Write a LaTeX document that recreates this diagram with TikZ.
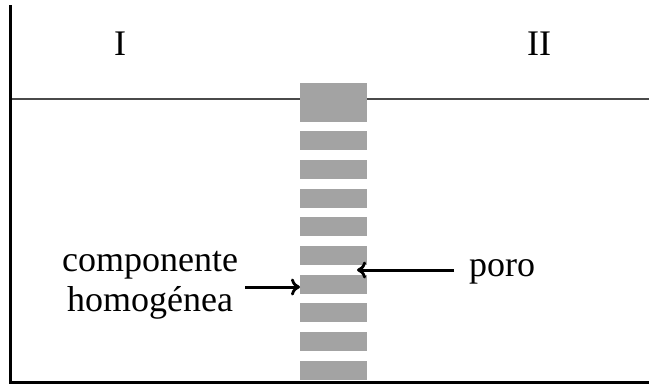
\documentclass[tikz,border=0pt]{standalone}
\usepackage{fontspec}
\setmainfont{Liberation Serif}
\usetikzlibrary{arrows.meta}
\definecolor{blockgray}{HTML}{A3A3A3}
\definecolor{linegray}{HTML}{4A4A4A}
\begin{document}
\begin{tikzpicture}[x=1pt,y=-1pt,
  lbl/.style={inner sep=0pt,font=\fontsize{36}{40}\selectfont},
  blk/.style={fill=blockgray,draw=none,inner sep=0pt,minimum width=67pt,anchor=north west},
  arr/.style={line width=3pt,-{To[length=9pt,width=17pt,line width=2.8pt]}}]
\useasboundingbox (0,0) rectangle (649,384);
% axes
\draw[linegray,line width=2.2pt] (10,99) -- (649,99);
\draw[line width=3pt] (10,5) -- (10,382.5) -- (649,382.5);
% membrane blocks
\node[blk,minimum height=39pt] (top) at (300,83) {};
\foreach \i in {0,...,8}{
  \node[blk,minimum height=19pt] (b\i) at (300,{131+28.7*\i}) {};
}
% labels
\node[lbl,anchor=base] (I) at (120,55) {I};
\node[lbl,anchor=base] (II) at (539,55) {II};
\node[lbl,align=center,anchor=base] (comp) at (150,311) {componente\\homogénea};
\node[lbl,anchor=base west] (poro) at (469,276) {poro};
\coordinate (pore) at (357,270);
\draw[arr] (comp.east |- 0,287) ++(7,0) -- (b5.west |- 0,287);
\draw[arr] (poro.west |- pore) ++(-15,0) -- (pore);
\end{tikzpicture}
\end{document}
